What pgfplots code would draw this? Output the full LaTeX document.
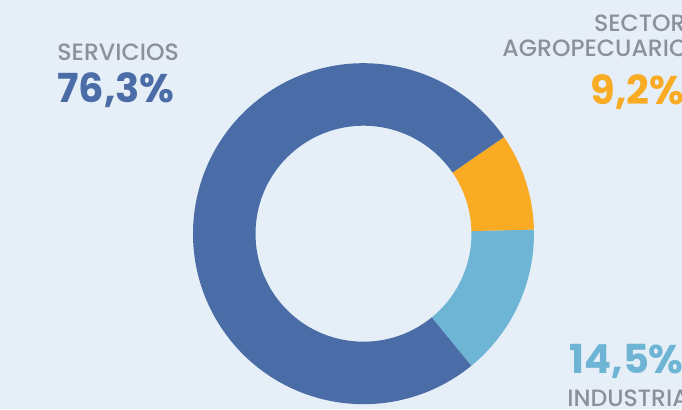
\documentclass[border=0pt]{standalone}
\usepackage{pgfplots}
\pgfplotsset{compat=1.18}
\usepackage{pgfplotstable}
\usetikzlibrary{calc}
\usepackage{fontspec}
\setmainfont{Poppins}
\newfontfamily\labfont{Poppins Medium}
\definecolor{bg}{HTML}{E6EEF8}
\definecolor{servblue}{HTML}{4A6DA7}
\definecolor{agroyel}{HTML}{F8AB23}
\definecolor{indblue}{HTML}{6EB5D5}
\definecolor{labgray}{HTML}{8A9199}
\pgfplotstableread{
label value
Industria 14.5
Agropecuario 9.2
Servicios 76.3
}\sharetable
\begin{document}
\begin{tikzpicture}
\pgfplotstablegetelem{0}{value}\of\sharetable \let\vA\pgfplotsretval
\pgfplotstablegetelem{1}{value}\of\sharetable \let\vB\pgfplotsretval
\pgfplotstablegetelem{2}{value}\of\sharetable \let\vC\pgfplotsretval
\pgfmathsetmacro\aZero{1.4-\vA*3.6}
\pgfmathsetmacro\aOne{\aZero+\vA*3.6}
\pgfmathsetmacro\aTwo{\aOne+\vB*3.6}
\pgfmathsetmacro\aThree{\aTwo+\vC*3.6}
\clip (0,0) rectangle (341pt,204.5pt);
\fill[bg] (0,0) rectangle (341pt,204.5pt);
\begin{axis}[x=0.5pt,y=0.5pt,xmin=0,xmax=682,ymin=0,ymax=409,hide axis,clip=false]
\def\ctr{axis cs:363.5,175.3}
\fill[indblue] ($(\ctr)+(\aZero:85.25pt)$) arc[start angle=\aZero, end angle=\aOne, radius=85.25pt] -- ($(\ctr)+(\aOne:54pt)$) arc[start angle=\aOne, end angle=\aZero, radius=54pt] -- cycle;
\fill[agroyel] ($(\ctr)+(\aOne:85.25pt)$) arc[start angle=\aOne, end angle=\aTwo, radius=85.25pt] -- ($(\ctr)+(\aTwo:54pt)$) arc[start angle=\aTwo, end angle=\aOne, radius=54pt] -- cycle;
\fill[servblue] ($(\ctr)+(\aTwo:85.25pt)$) arc[start angle=\aTwo, end angle=\aThree, radius=85.25pt] -- ($(\ctr)+(\aThree:54pt)$) arc[start angle=\aThree, end angle=\aTwo, radius=54pt] -- cycle;
\tikzset{lab/.style={inner sep=0,text=labgray,font=\labfont\fontsize{11.8}{14}\selectfont},
         num/.style={inner sep=0,font=\fontsize{20}{24}\selectfont\bfseries}}
\node[lab,anchor=base west] at (axis cs:57,349) {SERVICIOS};
\node[num,anchor=base west,text=servblue] at (axis cs:57,306.3) {76,3\%};
\node[lab,anchor=base east] at (axis cs:686,377.3) {SECTOR};
\node[lab,anchor=base east] at (axis cs:688,352.3) {AGROPECUARIO};
\node[num,anchor=base east,text=agroyel] at (axis cs:685,305) {9,2\%};
\node[num,anchor=base west,text=indblue] at (axis cs:569,35.7) {14,5\%};
\node[lab,anchor=base west] at (axis cs:567,2.8) {INDUSTRIA};
\end{axis}
\end{tikzpicture}
\end{document}
